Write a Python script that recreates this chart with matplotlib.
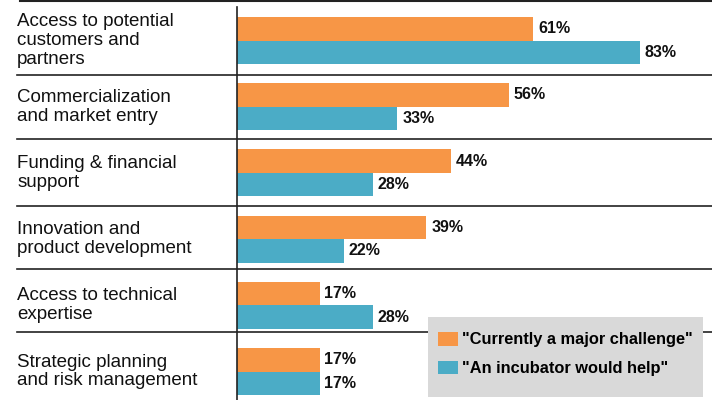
import numpy as np
import matplotlib
matplotlib.use("Agg")
import matplotlib.pyplot as plt
from matplotlib.patches import Rectangle

plt.rcParams['font.family'] = ['Liberation Sans', 'DejaVu Sans']

categories = ["Access to potential\ncustomers and\npartners",
              "Commercialization\nand market entry",
              "Funding & financial\nsupport",
              "Innovation and\nproduct development",
              "Access to technical\nexpertise",
              "Strategic planning\nand risk management"]
challenge = [61, 56, 44, 39, 17, 17]
incubator = [83, 33, 28, 22, 28, 17]
series_names = ['"Currently a major challenge"', '"An incubator would help"']

orange = '#F79646'
blue = '#4BACC6'
line_col = '#222222'

fig = plt.figure(figsize=(7.12, 4.0), dpi=100)
ax = fig.add_axes([237 / 712, 0, 475 / 712, 1])

ind = np.arange(len(categories))
h = 0.355
ax.barh(ind - h / 2, challenge, h, color=orange, label=series_names[0])
ax.barh(ind + h / 2, incubator, h, color=blue, label=series_names[1])

ax.set_xlim(0, 97.8)
ax.set_ylim(5.43, -0.612)

for i in range(len(categories)):
    ax.text(challenge[i] + 1.0, i - h / 2, f"{challenge[i]}%", va='center', ha='left',
            fontsize=11.5, fontweight='bold', color='#111111')
    ax.text(incubator[i] + 1.0, i + h / 2, f"{incubator[i]}%", va='center', ha='left',
            fontsize=11.5, fontweight='bold', color='#111111')
    ax.text(-0.463, i, categories[i], transform=ax.get_yaxis_transform(),
            va='center', ha='left', fontsize=13.5, linespacing=1.13, color='#111111')

# separators between groups
seps = [0.514, 1.495, 2.5, 3.444, 4.41]
tr = ax.get_yaxis_transform()
for s in seps:
    ax.plot([-0.463, 1], [s, s], transform=tr, color=line_col, lw=1.2, clip_on=False, zorder=1)
ax.plot([-0.457, 1], [-0.6, -0.6], transform=tr, color=line_col, lw=1.5, clip_on=False)

for sp in ['top', 'right', 'bottom']:
    ax.spines[sp].set_visible(False)
ax.spines['left'].set_color(line_col)
ax.spines['left'].set_linewidth(1.2)
ax.spines['left'].set_bounds(-0.506, 5.43)
ax.set_xticks([])
ax.set_yticks([])

# grey legend box
ax.add_patch(Rectangle((428 / 712, 3 / 400), 275 / 712, 80 / 400, transform=fig.transFigure,
                       facecolor='#d9d9d9', edgecolor='none', zorder=4, clip_on=False))
leg = ax.legend(loc='upper left', bbox_to_anchor=(438 / 712, 1 - 332 / 400), bbox_transform=fig.transFigure,
                frameon=False, prop={'weight': 'bold', 'size': 11.75},
                handlelength=1.2, handleheight=0.9, handletextpad=0.3,
                labelspacing=0.82, borderpad=0, borderaxespad=0)
leg.set_zorder(5)

fig.savefig("out.png", dpi=100)
